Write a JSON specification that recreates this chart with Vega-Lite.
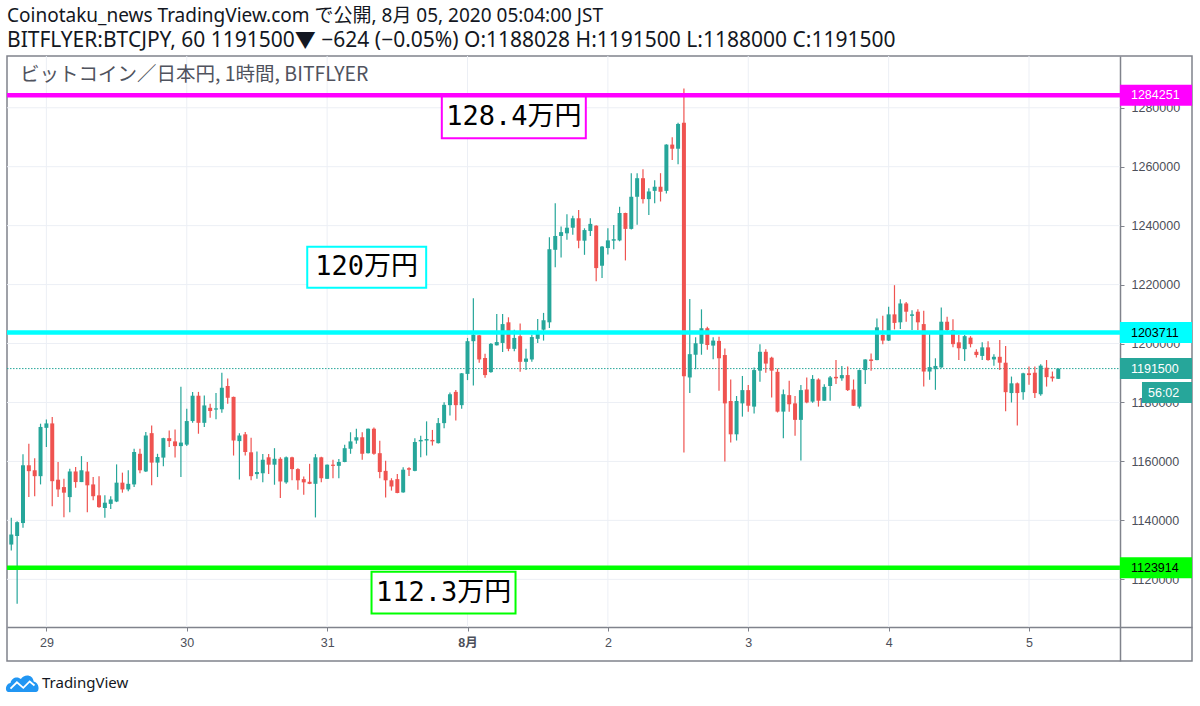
{
  "$schema": "https://vega.github.io/schema/vega-lite/v6.json",
  "autosize": {"type": "none"},
  "padding": {"left": 7, "top": 56, "right": 8, "bottom": 45},
  "width": 1185,
  "height": 605,
  "background": "#ffffff",
  "config": {
    "view": {"stroke": "#80838c", "strokeWidth": 1.5},
    "title": {"font": "Noto Sans, Noto Sans CJK JP", "fontSize": 19, "fontWeight": "normal", "color": "#131722",
      "subtitleFont": "Noto Sans, Noto Sans CJK JP", "subtitleFontSize": 21, "subtitleColor": "#131722",
      "anchor": "start", "frame": "group", "subtitlePadding": 4, "offset": 5}
  },
  "title": {
    "text": "Coinotaku_news TradingView.com で公開, 8月 05, 2020 05:04:00 JST",
    "subtitle": "BITFLYER:BTCJPY, 60 1191500▼ −624 (−0.05%) O:1188028 H:1191500 L:1188000 C:1191500"
  },
  "resolve": {"axis": {"x": "independent", "y": "independent"}},
  "data": {"values": [
    {"t":"2020-07-28T18:00","o":1131800,"h":1140900,"l":1129800,"c":1135200},
    {"t":"2020-07-28T19:00","o":1134700,"h":1139700,"l":1111700,"c":1139400},
    {"t":"2020-07-28T20:00","o":1139100,"h":1162400,"l":1137500,"c":1158700},
    {"t":"2020-07-28T21:00","o":1158700,"h":1166000,"l":1147900,"c":1156700},
    {"t":"2020-07-28T22:00","o":1157000,"h":1161100,"l":1148200,"c":1155000},
    {"t":"2020-07-28T23:00","o":1155000,"h":1172800,"l":1152200,"c":1171700},
    {"t":"2020-07-29T00:00","o":1171400,"h":1174200,"l":1164900,"c":1172900},
    {"t":"2020-07-29T01:00","o":1172900,"h":1175100,"l":1144800,"c":1153300},
    {"t":"2020-07-29T02:00","o":1153800,"h":1159800,"l":1147900,"c":1150500},
    {"t":"2020-07-29T03:00","o":1151300,"h":1154100,"l":1141100,"c":1149400},
    {"t":"2020-07-29T04:00","o":1147900,"h":1157500,"l":1142800,"c":1156600},
    {"t":"2020-07-29T05:00","o":1156600,"h":1158100,"l":1151100,"c":1153000},
    {"t":"2020-07-29T06:00","o":1153000,"h":1161800,"l":1153000,"c":1157000},
    {"t":"2020-07-29T07:00","o":1156600,"h":1159800,"l":1142800,"c":1151900},
    {"t":"2020-07-29T08:00","o":1152200,"h":1154700,"l":1146800,"c":1148200},
    {"t":"2020-07-29T09:00","o":1148500,"h":1155000,"l":1144300,"c":1144500},
    {"t":"2020-07-29T10:00","o":1144200,"h":1148500,"l":1140900,"c":1146000},
    {"t":"2020-07-29T11:00","o":1145600,"h":1148200,"l":1143900,"c":1147100},
    {"t":"2020-07-29T12:00","o":1146400,"h":1159000,"l":1146200,"c":1152800},
    {"t":"2020-07-29T13:00","o":1152800,"h":1156200,"l":1149400,"c":1150500},
    {"t":"2020-07-29T14:00","o":1150500,"h":1157000,"l":1149900,"c":1152400},
    {"t":"2020-07-29T15:00","o":1152200,"h":1164300,"l":1151300,"c":1163200},
    {"t":"2020-07-29T16:00","o":1162600,"h":1164300,"l":1156000,"c":1157000},
    {"t":"2020-07-29T17:00","o":1156600,"h":1170000,"l":1156400,"c":1168800},
    {"t":"2020-07-29T18:00","o":1169600,"h":1172200,"l":1151900,"c":1159600},
    {"t":"2020-07-29T19:00","o":1159600,"h":1162600,"l":1154700,"c":1161500},
    {"t":"2020-07-29T20:00","o":1161300,"h":1168000,"l":1158400,"c":1167900},
    {"t":"2020-07-29T21:00","o":1167900,"h":1170500,"l":1164900,"c":1166900},
    {"t":"2020-07-29T22:00","o":1166800,"h":1170800,"l":1161300,"c":1165200},
    {"t":"2020-07-29T23:00","o":1165200,"h":1185300,"l":1154700,"c":1166400},
    {"t":"2020-07-30T00:00","o":1165700,"h":1177900,"l":1165200,"c":1173700},
    {"t":"2020-07-30T01:00","o":1173700,"h":1183600,"l":1173100,"c":1182300},
    {"t":"2020-07-30T02:00","o":1182300,"h":1183600,"l":1169400,"c":1173100},
    {"t":"2020-07-30T03:00","o":1173100,"h":1182400,"l":1171700,"c":1179000},
    {"t":"2020-07-30T04:00","o":1178200,"h":1179600,"l":1174800,"c":1177100},
    {"t":"2020-07-30T05:00","o":1177600,"h":1183200,"l":1174300,"c":1178000},
    {"t":"2020-07-30T06:00","o":1177700,"h":1190100,"l":1176500,"c":1185000},
    {"t":"2020-07-30T07:00","o":1185600,"h":1188100,"l":1179600,"c":1181600},
    {"t":"2020-07-30T08:00","o":1181900,"h":1182000,"l":1162000,"c":1167100},
    {"t":"2020-07-30T09:00","o":1166900,"h":1169600,"l":1153900,"c":1168800},
    {"t":"2020-07-30T10:00","o":1169200,"h":1170000,"l":1162000,"c":1163200},
    {"t":"2020-07-30T11:00","o":1163100,"h":1168000,"l":1153600,"c":1155000},
    {"t":"2020-07-30T12:00","o":1155700,"h":1163400,"l":1154100,"c":1156400},
    {"t":"2020-07-30T13:00","o":1156000,"h":1162500,"l":1152900,"c":1160600},
    {"t":"2020-07-30T14:00","o":1161400,"h":1162500,"l":1155700,"c":1158900},
    {"t":"2020-07-30T15:00","o":1158900,"h":1164500,"l":1152100,"c":1160900},
    {"t":"2020-07-30T16:00","o":1160900,"h":1161400,"l":1147600,"c":1153200},
    {"t":"2020-07-30T17:00","o":1152900,"h":1161700,"l":1152400,"c":1161400},
    {"t":"2020-07-30T18:00","o":1161400,"h":1161600,"l":1153600,"c":1157400},
    {"t":"2020-07-30T19:00","o":1157400,"h":1157700,"l":1150400,"c":1153600},
    {"t":"2020-07-30T20:00","o":1154000,"h":1154900,"l":1148700,"c":1152900},
    {"t":"2020-07-30T21:00","o":1153100,"h":1159200,"l":1152300,"c":1152400},
    {"t":"2020-07-30T22:00","o":1152400,"h":1162500,"l":1141000,"c":1161400},
    {"t":"2020-07-30T23:00","o":1161400,"h":1161600,"l":1152900,"c":1154300},
    {"t":"2020-07-31T00:00","o":1154100,"h":1159000,"l":1154000,"c":1158900},
    {"t":"2020-07-31T01:00","o":1158900,"h":1160600,"l":1154300,"c":1158500},
    {"t":"2020-07-31T02:00","o":1158500,"h":1160800,"l":1154300,"c":1159800},
    {"t":"2020-07-31T03:00","o":1159800,"h":1165700,"l":1159700,"c":1164500},
    {"t":"2020-07-31T04:00","o":1164300,"h":1169900,"l":1162600,"c":1166800},
    {"t":"2020-07-31T05:00","o":1167100,"h":1171100,"l":1166000,"c":1168200},
    {"t":"2020-07-31T06:00","o":1168200,"h":1169900,"l":1160600,"c":1162600},
    {"t":"2020-07-31T07:00","o":1162800,"h":1171200,"l":1162700,"c":1171100},
    {"t":"2020-07-31T08:00","o":1171100,"h":1171500,"l":1162300,"c":1162600},
    {"t":"2020-07-31T09:00","o":1162800,"h":1167000,"l":1154300,"c":1156400},
    {"t":"2020-07-31T10:00","o":1156800,"h":1160200,"l":1147800,"c":1153600},
    {"t":"2020-07-31T11:00","o":1153600,"h":1154300,"l":1150100,"c":1151500},
    {"t":"2020-07-31T12:00","o":1154000,"h":1155700,"l":1149200,"c":1149300},
    {"t":"2020-07-31T13:00","o":1149500,"h":1158000,"l":1149400,"c":1157200},
    {"t":"2020-07-31T14:00","o":1157700,"h":1158000,"l":1155100,"c":1157200},
    {"t":"2020-07-31T15:00","o":1156800,"h":1167900,"l":1156700,"c":1166600},
    {"t":"2020-07-31T16:00","o":1166800,"h":1168700,"l":1161400,"c":1167300},
    {"t":"2020-07-31T17:00","o":1167100,"h":1173600,"l":1162000,"c":1167600},
    {"t":"2020-07-31T18:00","o":1167300,"h":1170700,"l":1165400,"c":1166800},
    {"t":"2020-07-31T19:00","o":1166200,"h":1174700,"l":1166100,"c":1173000},
    {"t":"2020-07-31T20:00","o":1173000,"h":1180100,"l":1171300,"c":1179200},
    {"t":"2020-07-31T21:00","o":1179100,"h":1183400,"l":1175600,"c":1182800},
    {"t":"2020-07-31T22:00","o":1183600,"h":1184200,"l":1173900,"c":1179100},
    {"t":"2020-07-31T23:00","o":1179100,"h":1190000,"l":1177900,"c":1189900},
    {"t":"2020-08-01T00:00","o":1189700,"h":1201900,"l":1187600,"c":1200800},
    {"t":"2020-08-01T01:00","o":1200800,"h":1215400,"l":1185800,"c":1203000},
    {"t":"2020-08-01T02:00","o":1202800,"h":1202900,"l":1193500,"c":1194600},
    {"t":"2020-08-01T03:00","o":1195100,"h":1196500,"l":1188400,"c":1189300},
    {"t":"2020-08-01T04:00","o":1190300,"h":1200200,"l":1190100,"c":1199900},
    {"t":"2020-08-01T05:00","o":1199400,"h":1210000,"l":1199300,"c":1200500},
    {"t":"2020-08-01T06:00","o":1200200,"h":1210000,"l":1197100,"c":1206600},
    {"t":"2020-08-01T07:00","o":1207200,"h":1208900,"l":1197400,"c":1198200},
    {"t":"2020-08-01T08:00","o":1198200,"h":1204700,"l":1197400,"c":1201900},
    {"t":"2020-08-01T09:00","o":1202500,"h":1206800,"l":1190400,"c":1193800},
    {"t":"2020-08-01T10:00","o":1193800,"h":1198200,"l":1191000,"c":1194900},
    {"t":"2020-08-01T11:00","o":1194600,"h":1203000,"l":1193800,"c":1202200},
    {"t":"2020-08-01T12:00","o":1201600,"h":1208300,"l":1200200,"c":1203600},
    {"t":"2020-08-01T13:00","o":1204700,"h":1210400,"l":1201000,"c":1207900},
    {"t":"2020-08-01T14:00","o":1207200,"h":1236100,"l":1205300,"c":1232000},
    {"t":"2020-08-01T15:00","o":1231800,"h":1247600,"l":1225900,"c":1236500},
    {"t":"2020-08-01T16:00","o":1236500,"h":1239700,"l":1229200,"c":1237800},
    {"t":"2020-08-01T17:00","o":1237400,"h":1243900,"l":1235200,"c":1239300},
    {"t":"2020-08-01T18:00","o":1239300,"h":1243400,"l":1236900,"c":1242500},
    {"t":"2020-08-01T19:00","o":1242500,"h":1245300,"l":1232300,"c":1234900},
    {"t":"2020-08-01T20:00","o":1234900,"h":1239100,"l":1230100,"c":1238500},
    {"t":"2020-08-01T21:00","o":1238200,"h":1242500,"l":1236500,"c":1240600},
    {"t":"2020-08-01T22:00","o":1240000,"h":1240100,"l":1221100,"c":1225600},
    {"t":"2020-08-01T23:00","o":1226400,"h":1233100,"l":1222200,"c":1232900},
    {"t":"2020-08-02T00:00","o":1232400,"h":1239100,"l":1230200,"c":1235000},
    {"t":"2020-08-02T01:00","o":1234900,"h":1240200,"l":1232000,"c":1235400},
    {"t":"2020-08-02T02:00","o":1235000,"h":1246400,"l":1234700,"c":1244300},
    {"t":"2020-08-02T03:00","o":1244300,"h":1244400,"l":1228200,"c":1238900},
    {"t":"2020-08-02T04:00","o":1238900,"h":1257800,"l":1238700,"c":1249800},
    {"t":"2020-08-02T05:00","o":1249800,"h":1257800,"l":1240300,"c":1256100},
    {"t":"2020-08-02T06:00","o":1256100,"h":1259100,"l":1247500,"c":1249000},
    {"t":"2020-08-02T07:00","o":1249000,"h":1252700,"l":1243600,"c":1251600},
    {"t":"2020-08-02T08:00","o":1251800,"h":1255400,"l":1247600,"c":1253200},
    {"t":"2020-08-02T09:00","o":1253200,"h":1257800,"l":1248200,"c":1251500},
    {"t":"2020-08-02T10:00","o":1251800,"h":1267600,"l":1250900,"c":1267500},
    {"t":"2020-08-02T11:00","o":1267500,"h":1270000,"l":1262300,"c":1266100},
    {"t":"2020-08-02T12:00","o":1266100,"h":1274900,"l":1260800,"c":1274500},
    {"t":"2020-08-02T13:00","o":1274900,"h":1286500,"l":1163000,"c":1188900},
    {"t":"2020-08-02T14:00","o":1188500,"h":1215100,"l":1183200,"c":1196400},
    {"t":"2020-08-02T15:00","o":1196200,"h":1202100,"l":1191300,"c":1200100},
    {"t":"2020-08-02T16:00","o":1199900,"h":1211600,"l":1196200,"c":1205200},
    {"t":"2020-08-02T17:00","o":1205200,"h":1205700,"l":1197900,"c":1199500},
    {"t":"2020-08-02T18:00","o":1199300,"h":1202100,"l":1194700,"c":1201000},
    {"t":"2020-08-02T19:00","o":1200900,"h":1202300,"l":1184000,"c":1195000},
    {"t":"2020-08-02T20:00","o":1196100,"h":1198300,"l":1160000,"c":1179700},
    {"t":"2020-08-02T21:00","o":1180500,"h":1187800,"l":1166400,"c":1169200},
    {"t":"2020-08-02T22:00","o":1169200,"h":1182200,"l":1167100,"c":1180500},
    {"t":"2020-08-02T23:00","o":1179700,"h":1189000,"l":1175200,"c":1184200},
    {"t":"2020-08-03T00:00","o":1184200,"h":1185900,"l":1176900,"c":1178900},
    {"t":"2020-08-03T01:00","o":1178600,"h":1191900,"l":1176300,"c":1191000},
    {"t":"2020-08-03T02:00","o":1190800,"h":1199800,"l":1187000,"c":1197200},
    {"t":"2020-08-03T03:00","o":1197200,"h":1198100,"l":1190100,"c":1193200},
    {"t":"2020-08-03T04:00","o":1195200,"h":1195500,"l":1181700,"c":1190800},
    {"t":"2020-08-03T05:00","o":1190400,"h":1191500,"l":1176600,"c":1176900},
    {"t":"2020-08-03T06:00","o":1176900,"h":1184400,"l":1167900,"c":1182800},
    {"t":"2020-08-03T07:00","o":1182500,"h":1187400,"l":1176900,"c":1179400},
    {"t":"2020-08-03T08:00","o":1179700,"h":1182200,"l":1168700,"c":1174100},
    {"t":"2020-08-03T09:00","o":1174100,"h":1185900,"l":1160300,"c":1184200},
    {"t":"2020-08-03T10:00","o":1184400,"h":1188500,"l":1179700,"c":1180000},
    {"t":"2020-08-03T11:00","o":1180300,"h":1189300,"l":1179900,"c":1188000},
    {"t":"2020-08-03T12:00","o":1187800,"h":1188200,"l":1178600,"c":1180600},
    {"t":"2020-08-03T13:00","o":1180600,"h":1186200,"l":1180500,"c":1185300},
    {"t":"2020-08-03T14:00","o":1185600,"h":1189000,"l":1180600,"c":1188500},
    {"t":"2020-08-03T15:00","o":1188700,"h":1194400,"l":1186300,"c":1188200},
    {"t":"2020-08-03T16:00","o":1188200,"h":1192400,"l":1187400,"c":1189300},
    {"t":"2020-08-03T17:00","o":1189300,"h":1192200,"l":1183900,"c":1184200},
    {"t":"2020-08-03T18:00","o":1184400,"h":1187800,"l":1178800,"c":1178900},
    {"t":"2020-08-03T19:00","o":1178600,"h":1191200,"l":1178000,"c":1191000},
    {"t":"2020-08-03T20:00","o":1191000,"h":1194700,"l":1186300,"c":1194600},
    {"t":"2020-08-03T21:00","o":1194600,"h":1196600,"l":1190800,"c":1194100},
    {"t":"2020-08-03T22:00","o":1194400,"h":1208500,"l":1194300,"c":1205500},
    {"t":"2020-08-03T23:00","o":1202900,"h":1209400,"l":1199800,"c":1201000},
    {"t":"2020-08-04T00:00","o":1201000,"h":1212500,"l":1200900,"c":1209900},
    {"t":"2020-08-04T01:00","o":1209900,"h":1219800,"l":1204800,"c":1207000},
    {"t":"2020-08-04T02:00","o":1207200,"h":1215000,"l":1204900,"c":1213600},
    {"t":"2020-08-04T03:00","o":1213600,"h":1214100,"l":1207400,"c":1210800},
    {"t":"2020-08-04T04:00","o":1209400,"h":1211300,"l":1204600,"c":1209900},
    {"t":"2020-08-04T05:00","o":1210800,"h":1211600,"l":1204600,"c":1207200},
    {"t":"2020-08-04T06:00","o":1206600,"h":1211100,"l":1185400,"c":1190500},
    {"t":"2020-08-04T07:00","o":1190500,"h":1203700,"l":1187700,"c":1192000},
    {"t":"2020-08-04T08:00","o":1191300,"h":1195000,"l":1184300,"c":1192400},
    {"t":"2020-08-04T09:00","o":1191900,"h":1212200,"l":1191800,"c":1207400},
    {"t":"2020-08-04T10:00","o":1207400,"h":1209100,"l":1203400,"c":1204600},
    {"t":"2020-08-04T11:00","o":1204600,"h":1208200,"l":1198700,"c":1199800},
    {"t":"2020-08-04T12:00","o":1200400,"h":1202900,"l":1194400,"c":1198400},
    {"t":"2020-08-04T13:00","o":1198100,"h":1202900,"l":1194100,"c":1202500},
    {"t":"2020-08-04T14:00","o":1202000,"h":1202500,"l":1198700,"c":1199800},
    {"t":"2020-08-04T15:00","o":1197200,"h":1198100,"l":1195300,"c":1196100},
    {"t":"2020-08-04T16:00","o":1195800,"h":1200400,"l":1194400,"c":1198700},
    {"t":"2020-08-04T17:00","o":1198700,"h":1200800,"l":1194200,"c":1194400},
    {"t":"2020-08-04T18:00","o":1194600,"h":1196400,"l":1192500,"c":1195500},
    {"t":"2020-08-04T19:00","o":1195500,"h":1201200,"l":1191000,"c":1193500},
    {"t":"2020-08-04T20:00","o":1193500,"h":1199200,"l":1177000,"c":1183500},
    {"t":"2020-08-04T21:00","o":1183200,"h":1188800,"l":1180000,"c":1186500},
    {"t":"2020-08-04T22:00","o":1186500,"h":1186800,"l":1172200,"c":1183200},
    {"t":"2020-08-04T23:00","o":1183500,"h":1190100,"l":1180900,"c":1189900},
    {"t":"2020-08-05T00:00","o":1189900,"h":1192200,"l":1186000,"c":1189300},
    {"t":"2020-08-05T01:00","o":1190100,"h":1192200,"l":1181500,"c":1183200},
    {"t":"2020-08-05T02:00","o":1182800,"h":1193000,"l":1182300,"c":1192500},
    {"t":"2020-08-05T03:00","o":1191800,"h":1194400,"l":1185400,"c":1188600},
    {"t":"2020-08-05T04:00","o":1188800,"h":1190500,"l":1187100,"c":1188200},
    {"t":"2020-08-05T05:00","o":1188028,"h":1191500,"l":1188000,"c":1191500}
  ]},
  "layer": [
    {
      "data": {"values": [{"v":1120000},{"v":1140000},{"v":1160000},{"v":1180000},{"v":1200000},{"v":1220000},{"v":1240000},{"v":1260000},{"v":1280000}]},
      "mark": {"type": "rule", "color": "#eceff5", "strokeWidth": 1},
      "encoding": {
        "x": {"datum": {"year":2020,"month":7,"date":28,"hours":17,"minutes":16}, "axis": null},
        "x2": {"datum": {"year":2020,"month":8,"date":5,"hours":15,"minutes":33}},
        "y": {"field": "v", "type": "quantitative", "axis": null}
      }
    },
    {
      "data": {"values": [{"d":"2020-07-29T00:00"},{"d":"2020-07-30T00:00"},{"d":"2020-07-31T00:00"},{"d":"2020-08-01T00:00"},{"d":"2020-08-02T00:00"},{"d":"2020-08-03T00:00"},{"d":"2020-08-04T00:00"},{"d":"2020-08-05T00:00"}]},
      "mark": {"type": "rule", "color": "#eceff5", "strokeWidth": 1},
      "encoding": {
        "x": {"field": "d", "type": "temporal", "axis": null},
        "y": {"datum": 1103820, "axis": null},
        "y2": {"datum": 1297560}
      }
    },
    {
      "data": {"values": [{"price": 1191500}]},
      "mark": {"type": "rule", "color": "#26a69a", "strokeWidth": 1, "strokeDash": [1.5, 1.5]},
      "encoding": {
        "x": {"datum": {"year":2020,"month":7,"date":28,"hours":17,"minutes":16}, "axis": null},
        "x2": {"datum": {"year":2020,"month":8,"date":5,"hours":15,"minutes":33}},
        "y": {"field": "price", "type": "quantitative", "axis": null}
      }
    },
    {
      "mark": {"type": "rule", "strokeWidth": 1.2},
      "encoding": {
        "x": {
          "field": "t", "type": "temporal", "title": null,
          "scale": {"domain": [{"year":2020,"month":7,"date":28,"hours":17,"minutes":16},{"year":2020,"month":8,"date":6,"hours":3,"minutes":52}], "nice": false, "padding": 0},
          "axis": {
            "orient": "bottom", "offset": -34, "grid": false, "zindex": 0, "title": null,
            "values": [{"year":2020,"month":7,"date":29},{"year":2020,"month":7,"date":30},{"year":2020,"month":7,"date":31},{"year":2020,"month":8,"date":1},{"year":2020,"month":8,"date":2},{"year":2020,"month":8,"date":3},{"year":2020,"month":8,"date":4},{"year":2020,"month":8,"date":5}],
            "labelExpr": "date(datum.value) == 1 ? '8月' : '' + date(datum.value)",
            "labelFontWeight": {"condition": {"test": "date(datum.value) == 1", "value": "bold"}, "value": "normal"},
            "labelFont": "Liberation Sans, Noto Sans CJK JP", "labelFontSize": 12.5, "labelColor": "#4c4f5a",
            "labelPadding": 5, "labelFlush": false, "labelOverlap": false,
            "tickSize": 4, "tickColor": "#80838c", "domainColor": "#80838c", "domainWidth": 1.5
          }
        },
        "y": {
          "field": "l", "type": "quantitative", "title": null,
          "scale": {"domain": [1092290, 1297560], "nice": false, "zero": false, "padding": 0},
          "axis": {
            "orient": "right", "offset": -72, "grid": false, "zindex": 0, "title": null,
            "values": [1120000,1140000,1160000,1180000,1200000,1220000,1240000,1260000,1280000],
            "format": "d", "labelFont": "Liberation Sans", "labelFontSize": 12.5, "labelColor": "#4c4f5a",
            "labelPadding": 7, "labelFlush": false, "labelOverlap": false,
            "tickSize": 4, "tickColor": "#80838c", "domainColor": "#80838c", "domainWidth": 1.5
          }
        },
        "y2": {"field": "h"},
        "color": {"condition": {"test": "datum.c >= datum.o", "value": "#26a69a"}, "value": "#ef5350"}
      }
    },
    {
      "mark": {"type": "bar", "size": 4},
      "encoding": {
        "x": {"field": "t", "type": "temporal", "axis": null},
        "y": {"field": "o", "type": "quantitative", "axis": null},
        "y2": {"field": "c"},
        "color": {"condition": {"test": "datum.c >= datum.o", "value": "#26a69a"}, "value": "#ef5350"}
      }
    },
    {
      "data": {"values": [{"name":"high","price":1284251},{"name":"mid","price":1203711},{"name":"low","price":1123914}]},
      "mark": {"type": "rule", "strokeWidth": 4.5},
      "encoding": {
        "x": {"datum": {"year":2020,"month":7,"date":28,"hours":17,"minutes":16}, "axis": null},
        "x2": {"datum": {"year":2020,"month":8,"date":5,"hours":15,"minutes":33}},
        "y": {"field": "price", "type": "quantitative", "axis": null},
        "color": {"field": "name", "type": "nominal", "legend": null,
          "scale": {"domain": ["high","mid","low","last"], "range": ["#ff00ff","#00ffff","#00ff00","#26a69a"]}}
      }
    },
    {
      "data": {"values": [
        {"label":"128.4万円","name":"high","t":"2020-08-01T07:55","p":1276700},
        {"label":"120万円","name":"mid","t":"2020-07-31T06:46","p":1225900},
        {"label":"112.3万円","name":"low","t":"2020-07-31T19:54","p":1115500}
      ]},
      "layer": [
        {
          "mark": {"type": "point", "filled": false, "fill": "#ffffff", "fillOpacity": 1, "opacity": 1, "strokeWidth": 2, "size": 20736},
          "encoding": {
            "x": {"field": "t", "type": "temporal", "axis": null},
            "y": {"field": "p", "type": "quantitative", "axis": null},
            "stroke": {"field": "name", "type": "nominal", "legend": null,
              "scale": {"domain": ["high","mid","low","last"], "range": ["#ff00ff","#00ffff","#00ff00","#26a69a"]}},
            "shape": {"field": "label", "type": "nominal", "legend": null,
              "scale": {"domain": ["128.4万円","120万円","112.3万円"],
                "range": ["M-1,-0.29L1,-0.29L1,0.29L-1,0.29Z","M-0.826,-0.285L0.826,-0.285L0.826,0.285L-0.826,0.285Z","M-1,-0.29L1,-0.29L1,0.29L-1,0.29Z"]}}
          }
        },
        {
          "mark": {"type": "text", "align": "center", "baseline": "middle", "font": "DejaVu Sans Mono, Noto Sans CJK JP", "fontSize": 27, "color": "#000000"},
          "encoding": {
            "x": {"field": "t", "type": "temporal", "axis": null},
            "y": {"field": "p", "type": "quantitative", "axis": null},
            "text": {"field": "label"}
          }
        }
      ]
    },
    {
      "data": {"values": [{"name":"high","price":1284251},{"name":"mid","price":1203711},{"name":"last","price":1191500},{"name":"low","price":1123914}]},
      "layer": [
        {
          "mark": {"type": "rect", "yOffset": -10.5, "y2Offset": 10.5},
          "encoding": {
            "x": {"datum": {"year":2020,"month":8,"date":5,"hours":15,"minutes":33}, "axis": null},
            "x2": {"datum": {"year":2020,"month":8,"date":6,"hours":3,"minutes":52}},
            "y": {"field": "price", "type": "quantitative", "axis": null},
            "y2": {"field": "price"},
            "color": {"field": "name", "type": "nominal", "legend": null,
              "scale": {"domain": ["high","mid","low","last"], "range": ["#ff00ff","#00ffff","#00ff00","#26a69a"]}}
          }
        },
        {
          "mark": {"type": "text", "align": "left", "baseline": "middle", "dx": 11, "font": "Liberation Sans", "fontSize": 12.5},
          "encoding": {
            "x": {"datum": {"year":2020,"month":8,"date":5,"hours":15,"minutes":33}, "axis": null},
            "y": {"field": "price", "type": "quantitative", "axis": null},
            "text": {"field": "price", "type": "quantitative", "format": "d"},
            "color": {"condition": {"test": "datum.name == 'mid' || datum.name == 'low'", "value": "#000000"}, "value": "#ffffff"}
          }
        }
      ]
    },
    {
      "data": {"values": [{"label": "56:02", "price": 1191500}]},
      "layer": [
        {
          "mark": {"type": "rect", "color": "#26a69a", "yOffset": 13.5, "y2Offset": 34.5},
          "encoding": {
            "x": {"datum": {"year":2020,"month":8,"date":5,"hours":19,"minutes":19}, "axis": null},
            "x2": {"datum": {"year":2020,"month":8,"date":6,"hours":3,"minutes":52}},
            "y": {"field": "price", "type": "quantitative", "axis": null},
            "y2": {"field": "price"}
          }
        },
        {
          "mark": {"type": "text", "align": "left", "baseline": "middle", "dx": 6, "dy": 24, "font": "Liberation Sans", "fontSize": 12.5, "color": "#ffffff"},
          "encoding": {
            "x": {"datum": {"year":2020,"month":8,"date":5,"hours":19,"minutes":19}, "axis": null},
            "y": {"field": "price", "type": "quantitative", "axis": null},
            "text": {"field": "label"}
          }
        }
      ]
    },
    {
      "data": {"values": [{"label": "ビットコイン／日本円, 1時間, BITFLYER"}]},
      "mark": {"type": "text", "align": "left", "baseline": "middle", "font": "Noto Sans CJK JP", "fontSize": 19.5, "color": "#50535e"},
      "encoding": {
        "x": {"datum": {"year":2020,"month":7,"date":28,"hours":19,"minutes":29}, "axis": null},
        "y": {"datum": 1291100, "axis": null},
        "text": {"field": "label"}
      }
    },
    {
      "data": {"values": [{"label": "TradingView"}]},
      "layer": [
        {
          "mark": {"type": "point", "filled": true, "color": "#2196f3", "opacity": 1, "size": 1024,
            "shape": "M-0.9,0.55C-1.1,0.55 -1.1,0.05 -0.75,0C-0.7,-0.35 -0.3,-0.45 -0.1,-0.25C0.1,-0.6 0.65,-0.55 0.7,-0.1C1.05,-0.05 1.1,0.55 0.85,0.55Z"},
          "encoding": {
            "x": {"datum": {"year":2020,"month":7,"date":28,"hours":19,"minutes":55}, "axis": null},
            "y": {"datum": 1084800, "axis": null}
          }
        },
        {
          "mark": {"type": "point", "filled": false, "color": "#ffffff", "opacity": 1, "strokeWidth": 1.8, "size": 1024,
            "shape": "M-0.75,0.35L-0.35,-0.05L0.05,0.3L0.45,-0.1L0.75,0.15"},
          "encoding": {
            "x": {"datum": {"year":2020,"month":7,"date":28,"hours":19,"minutes":55}, "axis": null},
            "y": {"datum": 1084800, "axis": null}
          }
        },
        {
          "mark": {"type": "text", "align": "left", "baseline": "middle", "font": "Noto Sans", "fontSize": 15, "color": "#131722"},
          "encoding": {
            "x": {"datum": {"year":2020,"month":7,"date":28,"hours":23,"minutes":15}, "axis": null},
            "y": {"datum": 1084800, "axis": null},
            "text": {"field": "label"}
          }
        }
      ]
    }
  ]
}
